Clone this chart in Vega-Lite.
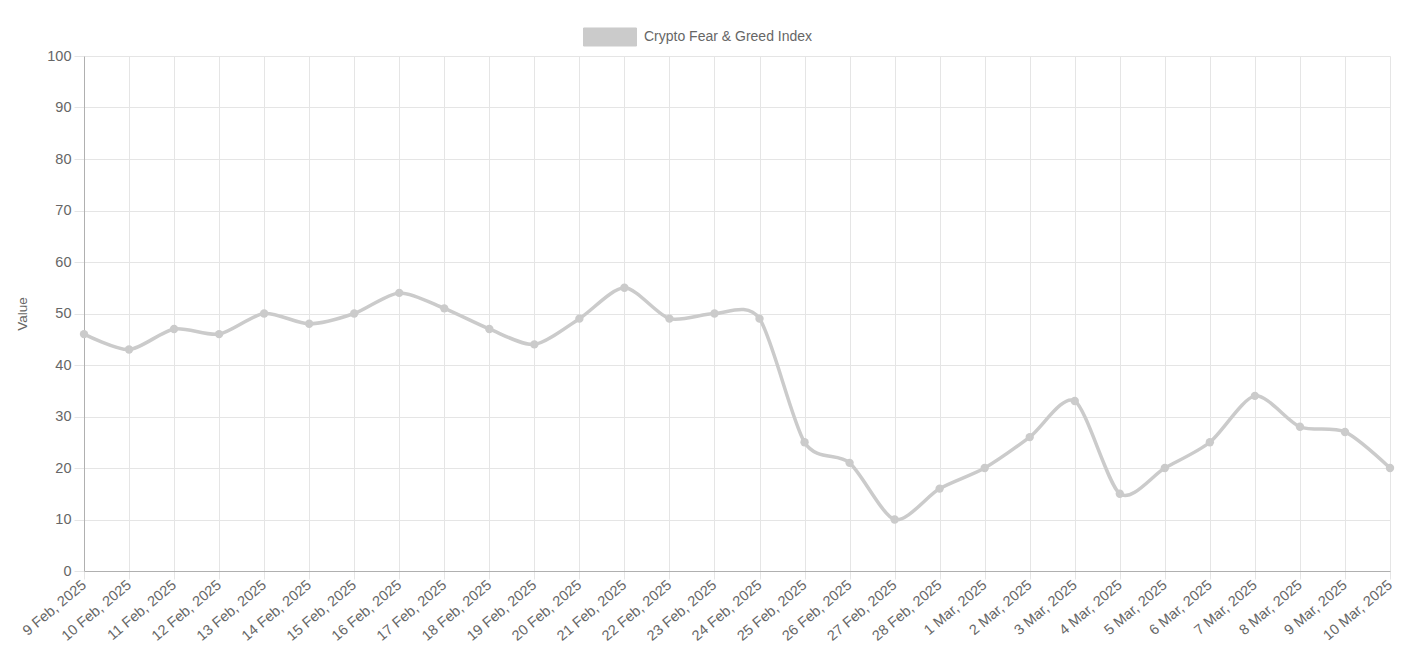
{
  "$schema": "https://vega.github.io/schema/vega-lite/v6.json",
  "autosize": "none",
  "width": 1306,
  "height": 515,
  "padding": {"left": 84, "top": 56, "right": 20, "bottom": 86},
  "background": "white",
  "data": {
    "values": [
      {"date": "9 Feb, 2025", "value": 46, "series": "Crypto Fear & Greed Index"},
      {"date": "10 Feb, 2025", "value": 43, "series": "Crypto Fear & Greed Index"},
      {"date": "11 Feb, 2025", "value": 47, "series": "Crypto Fear & Greed Index"},
      {"date": "12 Feb, 2025", "value": 46, "series": "Crypto Fear & Greed Index"},
      {"date": "13 Feb, 2025", "value": 50, "series": "Crypto Fear & Greed Index"},
      {"date": "14 Feb, 2025", "value": 48, "series": "Crypto Fear & Greed Index"},
      {"date": "15 Feb, 2025", "value": 50, "series": "Crypto Fear & Greed Index"},
      {"date": "16 Feb, 2025", "value": 54, "series": "Crypto Fear & Greed Index"},
      {"date": "17 Feb, 2025", "value": 51, "series": "Crypto Fear & Greed Index"},
      {"date": "18 Feb, 2025", "value": 47, "series": "Crypto Fear & Greed Index"},
      {"date": "19 Feb, 2025", "value": 44, "series": "Crypto Fear & Greed Index"},
      {"date": "20 Feb, 2025", "value": 49, "series": "Crypto Fear & Greed Index"},
      {"date": "21 Feb, 2025", "value": 55, "series": "Crypto Fear & Greed Index"},
      {"date": "22 Feb, 2025", "value": 49, "series": "Crypto Fear & Greed Index"},
      {"date": "23 Feb, 2025", "value": 50, "series": "Crypto Fear & Greed Index"},
      {"date": "24 Feb, 2025", "value": 49, "series": "Crypto Fear & Greed Index"},
      {"date": "25 Feb, 2025", "value": 25, "series": "Crypto Fear & Greed Index"},
      {"date": "26 Feb, 2025", "value": 21, "series": "Crypto Fear & Greed Index"},
      {"date": "27 Feb, 2025", "value": 10, "series": "Crypto Fear & Greed Index"},
      {"date": "28 Feb, 2025", "value": 16, "series": "Crypto Fear & Greed Index"},
      {"date": "1 Mar, 2025", "value": 20, "series": "Crypto Fear & Greed Index"},
      {"date": "2 Mar, 2025", "value": 26, "series": "Crypto Fear & Greed Index"},
      {"date": "3 Mar, 2025", "value": 33, "series": "Crypto Fear & Greed Index"},
      {"date": "4 Mar, 2025", "value": 15, "series": "Crypto Fear & Greed Index"},
      {"date": "5 Mar, 2025", "value": 20, "series": "Crypto Fear & Greed Index"},
      {"date": "6 Mar, 2025", "value": 25, "series": "Crypto Fear & Greed Index"},
      {"date": "7 Mar, 2025", "value": 34, "series": "Crypto Fear & Greed Index"},
      {"date": "8 Mar, 2025", "value": 28, "series": "Crypto Fear & Greed Index"},
      {"date": "9 Mar, 2025", "value": 27, "series": "Crypto Fear & Greed Index"},
      {"date": "10 Mar, 2025", "value": 20, "series": "Crypto Fear & Greed Index"}
    ]
  },
  "encoding": {
    "x": {
      "field": "date", "type": "ordinal", "sort": null,
      "scale": {"type": "point", "padding": 0},
      "axis": {
        "title": null, "labelAngle": -40, "labelAlign": "right", "labelBaseline": "middle",
        "labelPadding": 4, "tickSize": 8, "grid": true, "labelFontSize": 14.5
      }
    },
    "y": {
      "field": "value", "type": "quantitative",
      "scale": {"domain": [0, 100], "nice": false},
      "axis": {"title": "Value", "values": [0, 10, 20, 30, 40, 50, 60, 70, 80, 90, 100], "tickSize": 10, "labelPadding": 3, "titlePadding": 17, "labelFontSize": 14.5}
    },
    "color": {
      "field": "series", "type": "nominal",
      "scale": {"range": ["#cbcbcb"]},
      "legend": {
        "title": null, "orient": "none", "legendX": 499, "legendY": -46,
        "symbolType": "M-1,-0.34L1,-0.34L1,0.34L-1,0.34Z", "symbolSize": 2809,
        "symbolFillColor": "#cbcbcb", "symbolStrokeColor": "#d9d9d9", "symbolStrokeWidth": 1,
        "symbolOpacity": 1, "labelFontSize": 14, "labelColor": "#666666", "labelOffset": 7, "labelLimit": 400
      }
    }
  },
  "layer": [
    {"mark": {"type": "line", "interpolate": "cardinal", "tension": 0.2, "strokeWidth": 3.5}},
    {"mark": {"type": "point", "filled": true, "size": 70, "opacity": 1}}
  ],
  "config": {
    "font": "Liberation Sans",
    "view": {"stroke": null},
    "axis": {
      "labelColor": "#666666", "titleColor": "#666666", "titleFontWeight": "normal", "titleFontSize": 13.5,
      "gridColor": "#e5e5e5", "tickColor": "#e5e5e5", "domainColor": "#b0b0b0", "domainWidth": 1
    }
  }
}
